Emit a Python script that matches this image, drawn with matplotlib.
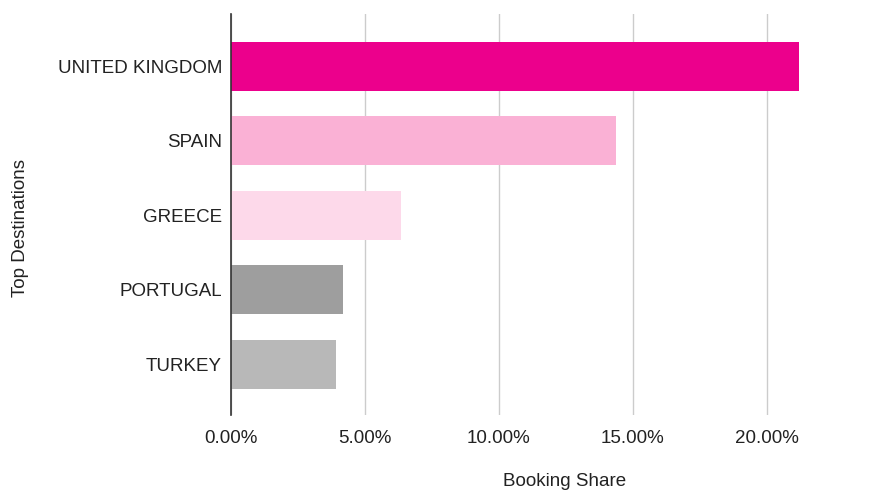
import numpy as np
import matplotlib.pyplot as plt
from matplotlib.ticker import FuncFormatter

plt.rcParams['font.family'] = ['Liberation Sans', 'DejaVu Sans']

# data
destinations = ["UNITED KINGDOM", "SPAIN", "GREECE", "PORTUGAL", "TURKEY"]
share = [0.2119, 0.1437, 0.0634, 0.0418, 0.0393]
bar_colors = ["#EC008C", "#FAB1D5", "#FDD9EA", "#9E9E9E", "#B8B8B8"]
xticks = [0.0, 0.05, 0.10, 0.15, 0.20]

W, H = 891, 491
fig = plt.figure(figsize=(W / 100, H / 100), dpi=100)
# axes box in pixels: left 231, right 901 (25%), top 14, bottom 415
ax = fig.add_axes([231 / W, 1 - 415 / H, (901 - 231) / W, (415 - 14) / H])

y = np.arange(len(destinations))
ax.barh(y, share, height=0.655, color=bar_colors, zorder=3)

ax.set_xlim(0, 0.25)
ax.set_ylim(4.68, -0.70)
ax.set_xticks(xticks)
ax.xaxis.set_major_formatter(FuncFormatter(lambda v, p: "%.2f%%" % (v * 100)))
ax.set_yticks(y)
ax.set_yticklabels(destinations)

ax.grid(axis="x", color="#CCCCCC", linewidth=1.0, zorder=0)
for s in ["top", "right", "bottom"]:
    ax.spines[s].set_visible(False)
ax.spines["left"].set_color("#333333")
ax.spines["left"].set_linewidth(1.2)
ax.spines["left"].set_zorder(4)

ax.tick_params(axis="both", length=0, labelsize=13.5, colors="#222222")
ax.tick_params(axis="y", pad=6.5)
ax.tick_params(axis="x", pad=10.5)

ax.set_xlabel("Booking Share", fontsize=13.5, color="#222222", va="center", ha="center")
ax.xaxis.set_label_coords((565 - 231) / (901 - 231), -(481 - 415) / (415 - 14))
ax.set_ylabel("Top Destinations", fontsize=13.5, color="#222222", va="center", ha="center")
ax.yaxis.set_label_coords(-(231 - 21) / (901 - 231), (415 - 228) / (415 - 14))

fig.savefig("out.png", dpi=100)
